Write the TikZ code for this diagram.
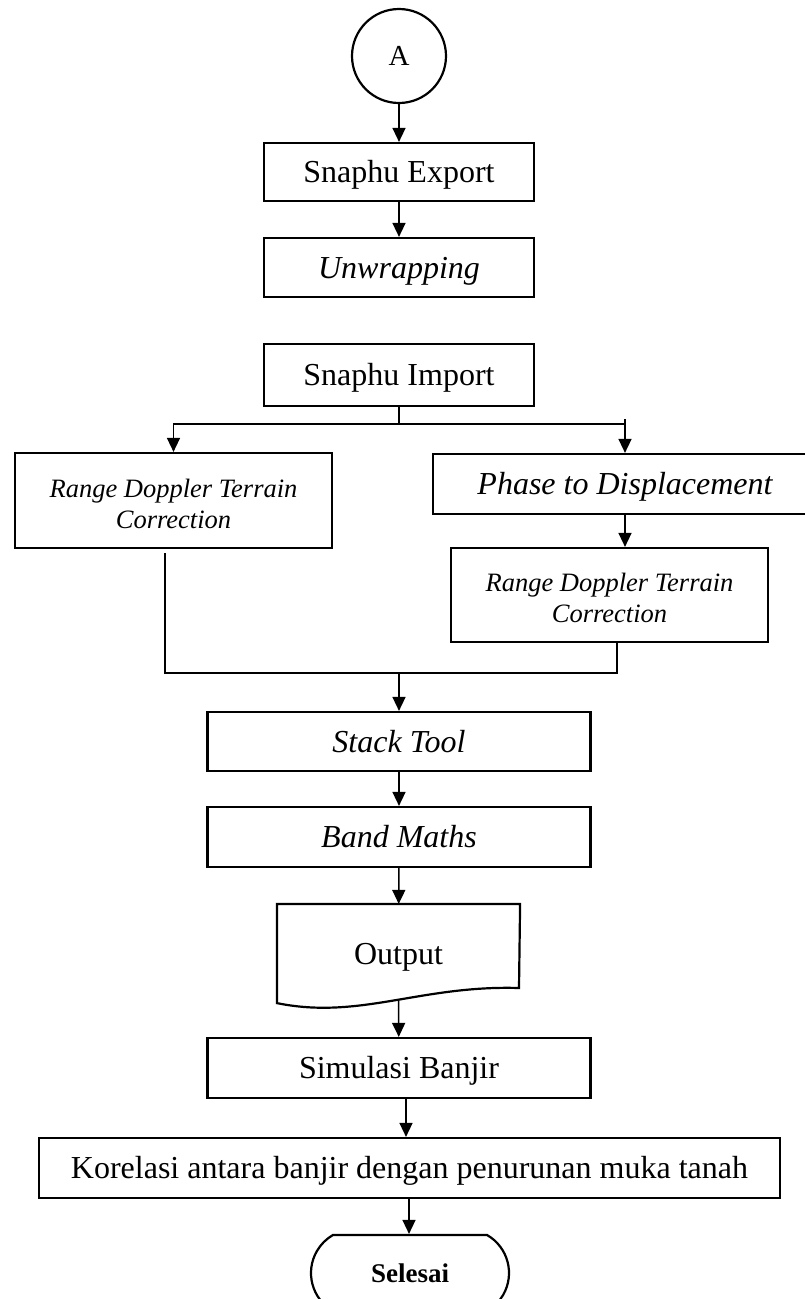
\documentclass[tikz,border=0pt]{standalone}
\usepackage{fontspec}
\setmainfont{Liberation Serif}
\usetikzlibrary{arrows.meta,shapes.misc}
\begin{document}
\begin{tikzpicture}[x=1pt,y=-1pt,
  outline/.style={line width=2.2pt},
  box/.style={draw, outline, inner sep=0pt, align=center,
    font=\fontsize{32}{38}\selectfont, text height=21pt, text depth=0pt},
  itbox/.style={box, font=\fontsize{32}{38}\selectfont\itshape},
  sbox/.style={box, font=\fontsize{26.5}{31}\selectfont\itshape, text height=55pt, text depth=0pt},
  conn/.style={line width=1.5pt},
  arr/.style={conn, -{Triangle[length=14pt,width=13pt]}}]
\clip (0,0) rectangle (805,1299);

\node[circle, draw, outline, minimum size=94pt, inner sep=0pt,
  font=\fontsize{29}{34}\selectfont, text height=19pt, text depth=0pt] (A) at (399,56) {A};
\node[box, minimum width=270pt, minimum height=58pt] (export) at (399,172) {Snaphu Export};
\node[itbox, minimum width=270pt, minimum height=59pt] (unwrap) at (399,267.5) {Unwrapping};
\node[box, minimum width=270pt, minimum height=62pt] (import) at (399,375) {Snaphu Import};
\node[sbox, minimum width=317pt, minimum height=95pt] (rdt1) at (173.5,500.5) {Range Doppler Terrain\\Correction};
\node[itbox, minimum width=384pt, minimum height=60pt] (phase) at (625,484) {Phase to Displacement};
\node[sbox, minimum width=317pt, minimum height=94pt] (rdt2) at (609.5,595) {Range Doppler Terrain\\Correction};
\node[itbox, minimum width=383pt, minimum height=59pt] (stack) at (399,741.5) {Stack Tool};
\node[itbox, minimum width=383pt, minimum height=60pt] (band) at (399,837) {Band Maths};
\node[box, draw=none, minimum width=241pt, minimum height=97pt] (output) at (398.5,953.5) {Output};
\draw[outline] (output.north west) -- (output.north east) -- (519,988)
  .. controls (420,985) and (360,1020) .. (output.south west) -- cycle;
\node[box, minimum width=383pt, minimum height=60pt] (sim) at (399,1068) {Simulasi Banjir};
\node[box, minimum width=741pt, minimum height=60pt] (kor) at (409.5,1168) {Korelasi antara banjir dengan penurunan muka tanah};
\node[draw, outline, rounded rectangle, rounded rectangle arc length=120,
  minimum width=198pt, minimum height=76pt, inner sep=0pt,
  font=\fontsize{27}{30}\selectfont\bfseries, text height=18pt, text depth=0pt] (sel) at (410,1273) {Selesai};

\draw[arr] (A) -- (export);
\draw[arr] (export) -- (unwrap);
\coordinate (bj) at (399,424);
\draw[conn] (import) -- (bj);
\draw[arr] (bj) -| (rdt1.north);
\draw[conn] (bj) -- (bj -| phase.north);
\draw[arr] (phase.north |- 0,419) -- (phase.north);
\draw[arr] (phase.south) -- (phase.south |- rdt2.north);
\coordinate (mj) at (399,673);
\coordinate (ml) at (165,673);
\coordinate (mr) at (617,673);
\draw[conn] (ml |- 0,553) -- (ml) -- (mr) -- (rdt2.south -| mr);
\draw[arr] (mj) -- (stack.north);
\draw[arr] (stack) -- (band);
\draw[arr] (band) -- (output);
\draw[arr] ([yshift=3pt]output.south) -- (sim);
\coordinate (c1) at (406,0);
\coordinate (c2) at (409,0);
\draw[arr] (sim.south -| c1) -- (kor.north -| c1);
\draw[arr] (kor.south -| c2) -- (sel.north -| c2);
\end{tikzpicture}
\end{document}
